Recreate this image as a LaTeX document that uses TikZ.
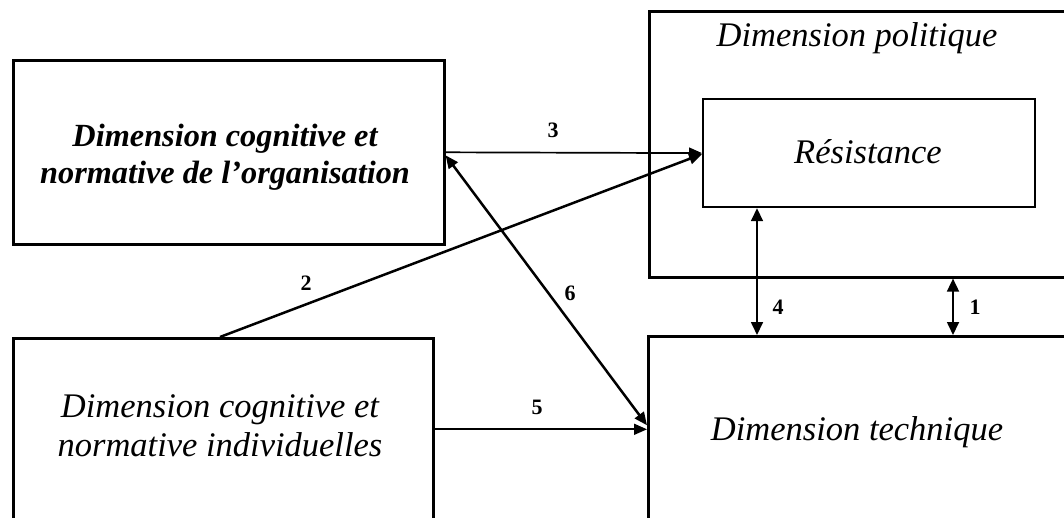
\documentclass[tikz,border=0pt]{standalone}
\usepackage{fontspec}
\setmainfont{Liberation Serif}
\usetikzlibrary{arrows.meta,calc}
\begin{document}
\begin{tikzpicture}[x=1pt,y=-1pt,
  box/.style={draw,line width=2.6pt,rectangle,inner sep=0pt,anchor=north west},
  inbox/.style={draw,line width=2.2pt,rectangle,inner sep=0pt,anchor=north west},
  txt/.style={font=\fontsize{34.5}{39.5}\selectfont\itshape,align=center,inner sep=0pt},
  btxt/.style={font=\fontsize{32.3}{37.5}\selectfont\bfseries\itshape,align=center,inner sep=0pt},
  num/.style={font=\fontsize{22}{24}\selectfont\bfseries,inner sep=0pt},
  link/.style={line width=1.7pt,-{Triangle[length=13pt,width=11pt]}},
  dlink/.style={line width=1.7pt,{Triangle[length=13pt,width=12pt]}-{Triangle[length=13pt,width=12pt]}},
  heavy/.style={line width=2.5pt}
]
\useasboundingbox (0,0) rectangle (1064,517);
\clip (0,0) rectangle (1064,517);

% boxes
\node[box,minimum width=431pt,minimum height=184pt] (A) at (12,59) {};
\node[box,minimum width=420pt,minimum height=182pt] (B) at (12,337) {};
\node[box,minimum width=430pt,minimum height=266pt] (P) at (648,10) {};
\node[inbox,minimum width=332pt,minimum height=108pt] (R) at (702,98) {};
\node[box,minimum width=430pt,minimum height=186pt] (T) at (647,335) {};

% texts
\node[btxt] (tA) at (225,157) {Dimension cognitive et\\normative de l’organisation};
\node[txt] (tB) at (220,426) {Dimension cognitive et\\normative individuelles};
\node[txt] (tP) at (857,38) {Dimension politique};
\node[txt] (tR) at (868,152) {Résistance};
\node[txt] (tT) at (857,432) {Dimension technique};

% anchor points on box edges
\coordinate (b2) at ($(B.north west)+(208,0)$);
\coordinate (r4) at ($(R.south west)+(55,0)$);
\coordinate (p1) at ($(P.south west)+(305,0)$);

% connectors
\draw[link] (A.east) -- (R.west);
\draw[link,heavy] (b2) -- ($(R.west)+(0,1)$);
\draw[link] (B.east) -- (T.west);
\draw[heavy,{Triangle[length=13pt,width=11pt]}-{Triangle[length=13pt,width=11pt]}] ($(A.east)+(0,3)$) -- ($(T.west)+(0,-4)$);
\draw[dlink] (r4) -- (r4 |- T.north);
\draw[dlink] (p1) -- (p1 |- T.north);

% connector labels
\node[num] (n3) at (553,130) {3};
\node[num] (n2) at (306,283) {2};
\node[num] (n6) at (570,293) {6};
\node[num] (n5) at (537,407) {5};
\node[num] (n4) at (778,307) {4};
\node[num] (n1) at (975,307) {1};
\end{tikzpicture}
\end{document}
